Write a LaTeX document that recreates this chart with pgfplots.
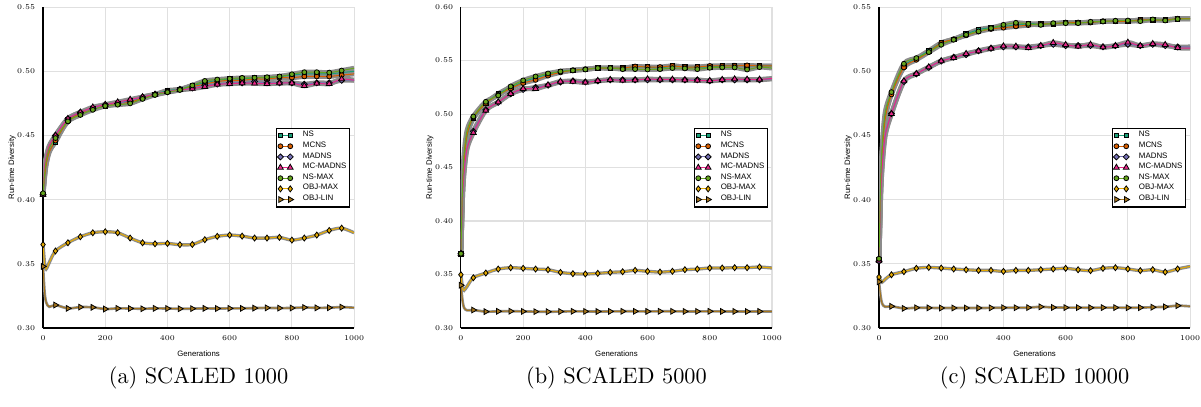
\documentclass[border=0pt]{standalone}
\usepackage{fontspec}
\usepackage{pgfplots}
\usepackage{pgfplotstable}
\pgfplotsset{compat=1.18}
\newfontfamily\lab{Liberation Sans}
\definecolor{cNS}{HTML}{1B9E77}
\definecolor{cMCNS}{HTML}{D95F02}
\definecolor{cMADNS}{HTML}{7570B3}
\definecolor{cMCMADNS}{HTML}{E7298A}
\definecolor{cNSMAX}{HTML}{66A61E}
\definecolor{cOBJMAX}{HTML}{E6AB02}
\definecolor{cOBJLIN}{HTML}{A6761D}
\definecolor{bandgray}{RGB}{140,140,140}

\pgfplotstableread{
x ns mcns madns mcmadns nsmax objmax objlin
0 0.404 0.404 0.404 0.404 0.405 0.365 0.348
5 0.418 0.417 0.424 0.425 0.420 0.350 0.328
10 0.428 0.427 0.432 0.433 0.430 0.346 0.320
20 0.438 0.437 0.441 0.442 0.440 0.351 0.3165
40 0.445 0.446 0.450 0.450 0.448 0.360 0.3179
80 0.462 0.461 0.463 0.463 0.461 0.3664 0.3153
120 0.467 0.467 0.468 0.468 0.466 0.3711 0.3163
160 0.471 0.471 0.471 0.472 0.470 0.3742 0.3161
200 0.473 0.473 0.474 0.474 0.473 0.3750 0.3148
240 0.475 0.475 0.475 0.476 0.474 0.3742 0.3153
280 0.477 0.476 0.477 0.478 0.475 0.3701 0.3152
320 0.479 0.479 0.480 0.480 0.4785 0.3664 0.3150
360 0.482 0.482 0.482 0.482 0.4816 0.3656 0.3153
400 0.485 0.484 0.484 0.484 0.4837 0.3659 0.3152
440 0.486 0.486 0.486 0.4855 0.4855 0.3649 0.3150
480 0.489 0.488 0.487 0.4865 0.489 0.3651 0.3151
520 0.491 0.490 0.489 0.488 0.4925 0.3688 0.3153
560 0.493 0.492 0.490 0.4898 0.4936 0.3714 0.3152
600 0.494 0.493 0.491 0.4903 0.4943 0.3724 0.3153
640 0.494 0.493 0.491 0.4908 0.4949 0.3716 0.3153
680 0.495 0.494 0.492 0.4906 0.495 0.3701 0.3155
720 0.495 0.494 0.491 0.4903 0.4954 0.3701 0.3157
760 0.496 0.495 0.491 0.4908 0.496 0.3706 0.3155
800 0.497 0.495 0.491 0.4908 0.4977 0.3685 0.3156
840 0.498 0.496 0.490 0.4887 0.4993 0.3701 0.3160
880 0.498 0.496 0.491 0.4906 0.4993 0.3724 0.3157
920 0.498 0.496 0.491 0.4903 0.499 0.3760 0.3158
960 0.499 0.497 0.493 0.4939 0.5006 0.3778 0.3163
1000 0.500 0.498 0.493 0.4931 0.5024 0.3742 0.3158
}\tA

\pgfplotstableread{
x ns mcns madns mcmadns nsmax objmax objlin
0 0.3695 0.3695 0.3695 0.3695 0.3695 0.3498 0.340
5 0.425 0.426 0.421 0.420 0.430 0.338 0.326
10 0.455 0.456 0.446 0.445 0.462 0.3352 0.319
20 0.480 0.481 0.469 0.468 0.485 0.339 0.3165
40 0.496 0.497 0.484 0.4826 0.4978 0.347 0.3168
80 0.510 0.510 0.504 0.5034 0.5115 0.3514 0.3153
120 0.519 0.518 0.511 0.5112 0.5174 0.3551 0.3156
160 0.525 0.524 0.519 0.519 0.5259 0.3564 0.3157
200 0.530 0.529 0.523 0.5237 0.5315 0.3558 0.3155
240 0.534 0.532 0.525 0.5237 0.5352 0.3551 0.3153
280 0.537 0.536 0.527 0.5271 0.538 0.3545 0.3152
320 0.540 0.539 0.530 0.5305 0.5399 0.352 0.3154
360 0.541 0.541 0.531 0.5305 0.5408 0.3508 0.3156
400 0.542 0.542 0.530 0.5296 0.5417 0.3505 0.3155
440 0.543 0.543 0.531 0.5312 0.543 0.3511 0.3154
480 0.543 0.543 0.532 0.5321 0.543 0.352 0.3155
520 0.543 0.543 0.532 0.5315 0.542 0.3526 0.3156
560 0.544 0.5445 0.532 0.5318 0.542 0.3539 0.3156
600 0.544 0.544 0.532 0.5327 0.5417 0.353 0.3155
640 0.543 0.544 0.532 0.5324 0.542 0.3523 0.3156
680 0.545 0.545 0.532 0.5324 0.543 0.353 0.3156
720 0.544 0.544 0.532 0.5318 0.5427 0.3545 0.3155
760 0.544 0.544 0.532 0.5315 0.542 0.3551 0.3155
800 0.544 0.545 0.531 0.5312 0.5433 0.3561 0.3156
840 0.545 0.545 0.532 0.5321 0.5436 0.3561 0.3155
880 0.5455 0.545 0.532 0.5327 0.5436 0.3564 0.3155
920 0.545 0.5455 0.532 0.5324 0.5417 0.3564 0.3154
960 0.545 0.545 0.532 0.5324 0.5439 0.357 0.3155
1000 0.545 0.545 0.533 0.5333 0.543 0.3561 0.3155
}\tB

\pgfplotstableread{
x ns mcns madns mcmadns nsmax objmax objlin
0 0.353 0.353 0.352 0.3527 0.354 0.3397 0.336
5 0.408 0.405 0.401 0.400 0.410 0.337 0.325
10 0.438 0.435 0.426 0.425 0.440 0.3358 0.319
20 0.466 0.463 0.451 0.450 0.468 0.338 0.3165
40 0.483 0.482 0.467 0.4669 0.4838 0.3415 0.3169
80 0.504 0.503 0.492 0.4924 0.5059 0.3439 0.3153
120 0.510 0.509 0.498 0.4981 0.5103 0.3465 0.3158
160 0.516 0.515 0.503 0.5033 0.515 0.3472 0.3157
200 0.522 0.522 0.508 0.508 0.5207 0.3467 0.3156
240 0.525 0.525 0.511 0.5105 0.5246 0.346 0.3156
280 0.529 0.528 0.513 0.5137 0.5285 0.3454 0.3156
320 0.5325 0.531 0.516 0.5157 0.5311 0.3449 0.3156
360 0.534 0.533 0.518 0.5178 0.5336 0.3449 0.3157
400 0.535 0.534 0.519 0.5196 0.5362 0.3441 0.3158
440 0.536 0.535 0.519 0.5194 0.5378 0.3449 0.3158
480 0.537 0.536 0.519 0.5183 0.537 0.3449 0.3159
520 0.537 0.537 0.520 0.5199 0.5362 0.3454 0.3165
560 0.537 0.537 0.521 0.5222 0.5375 0.346 0.316
600 0.538 0.538 0.520 0.5207 0.5375 0.3465 0.3159
640 0.538 0.538 0.520 0.5194 0.5375 0.3454 0.3159
680 0.538 0.538 0.520 0.5209 0.5386 0.3447 0.3158
720 0.539 0.539 0.519 0.5188 0.5388 0.3465 0.3159
760 0.539 0.539 0.520 0.5199 0.5394 0.347 0.3159
800 0.539 0.539 0.521 0.5225 0.5396 0.346 0.3158
840 0.540 0.540 0.520 0.5199 0.5391 0.3447 0.3159
880 0.540 0.540 0.521 0.5214 0.5404 0.3454 0.3162
920 0.540 0.540 0.520 0.5207 0.5396 0.3436 0.3165
960 0.541 0.541 0.519 0.5183 0.5407 0.346 0.3174
1000 0.541 0.541 0.519 0.518 0.5409 0.348 0.3169
}\tC

\pgfplotsset{
  rtaxis/.style={
    scale only axis, width=139.5pt, height=143.9pt,
    anchor=south west,
    xmin=0, xmax=1000, ymin=0.30,
    axis x line*=bottom, axis y line*=left,
    axis line style={-, black, line width=0.5pt},
    grid=major, major grid style={black!12, line width=0.5pt},
    xtick={0,200,400,600,800,1000},
    major tick length=0pt,
    scaled ticks=false,
    tick label style={font=\fontsize{3.3}{4}\selectfont},
    /pgf/number format/assume math mode=true,
    /pgf/number format/1000 sep={},
    y tick label style={/pgf/number format/.cd, fixed, fixed zerofill, precision=2},
    xlabel={Generations}, ylabel={Run-time Diversity},
    every axis label/.append style={font=\lab\fontsize{3.5}{4}\selectfont},
    xlabel style={at={(axis description cs:0.5,-0.0813)}, anchor=center},
    ylabel style={at={(axis description cs:-0.0996,0.5)}, anchor=center},
    legend style={at={(0.987,0.5)}, anchor=east, draw=black, line width=0.6pt, fill=white,
      font=\lab\fontsize{3.55}{4}\selectfont, inner sep=0.5pt, row sep=-0.8pt,
      nodes={inner sep=0.8pt},
      /tikz/every odd column/.append style={column sep=3.4pt}},
    legend cell align=left,
    legend image code/.code={\draw[##1,mark repeat=1,mark phase=1] plot coordinates {(0pt,0pt) (4.4pt,0pt)};},
  },
  rtband/.style={forget plot, color=bandgray, line width=#1, smooth, no markers},
  rtline/.style={color=#1, line width=0.45pt, smooth, mark repeat=1000,
    mark options={draw=black, fill=#1, line width=0.35pt, solid}},
  rtmk/.style={forget plot, only marks, restrict x to domain=39:961,
    mark options={draw=black, fill=#1, line width=0.35pt, solid}},
}

\newcommand{\allseries}[1]{%
  \addplot[rtband=2.2pt] table[x=x,y=ns]{#1};
  \addplot[rtband=2.2pt] table[x=x,y=mcns]{#1};
  \addplot[rtband=2.2pt] table[x=x,y=madns]{#1};
  \addplot[rtband=2.2pt] table[x=x,y=mcmadns]{#1};
  \addplot[rtband=2.2pt] table[x=x,y=nsmax]{#1};
  \addplot[rtband=1.5pt] table[x=x,y=objmax]{#1};
  \addplot[rtband=1.2pt] table[x=x,y=objlin]{#1};
  \addplot[rtline=cNS, mark=square*, mark size=1.0pt] table[x=x,y=ns]{#1};
  \addlegendentry{NS}
  \addplot[rtmk=cNS, mark=square*, mark size=1.0pt] table[x=x,y=ns]{#1};
  \addplot[rtline=cMCNS, mark=*, mark size=1.1pt] table[x=x,y=mcns]{#1};
  \addlegendentry{MCNS}
  \addplot[rtmk=cMCNS, mark=*, mark size=1.1pt] table[x=x,y=mcns]{#1};
  \addplot[rtline=cMADNS, mark=square*, mark size=0.95pt, every mark/.append style={rotate=45}] table[x=x,y=madns]{#1};
  \addlegendentry{MADNS}
  \addplot[rtmk=cMADNS, mark=square*, mark size=0.95pt, every mark/.append style={rotate=45}] table[x=x,y=madns]{#1};
  \addplot[rtline=cMCMADNS, mark=triangle*, mark size=1.5pt] table[x=x,y=mcmadns]{#1};
  \addlegendentry{MC-MADNS}
  \addplot[rtmk=cMCMADNS, mark=triangle*, mark size=1.5pt] table[x=x,y=mcmadns]{#1};
  \addplot[rtline=cNSMAX, mark=*, mark size=1.1pt] table[x=x,y=nsmax]{#1};
  \addlegendentry{NS-MAX}
  \addplot[rtmk=cNSMAX, mark=*, mark size=1.1pt] table[x=x,y=nsmax]{#1};
  \addplot[rtline=cOBJMAX, mark=diamond*, mark size=1.35pt] table[x=x,y=objmax]{#1};
  \addlegendentry{OBJ-MAX}
  \addplot[rtmk=cOBJMAX, mark=diamond*, mark size=1.35pt] table[x=x,y=objmax]{#1};
  \addplot[rtline=cOBJLIN, mark=triangle*, mark size=1.5pt, every mark/.append style={rotate=-90}] table[x=x,y=objlin]{#1};
  \addlegendentry{OBJ-LIN}
  \addplot[rtmk=cOBJLIN, mark=triangle*, mark size=1.5pt, every mark/.append style={rotate=-90}] table[x=x,y=objlin]{#1};
}

\begin{document}
\begin{tikzpicture}
\path[use as bounding box] (0pt,0pt) rectangle (538.6pt,182.1pt);
\begin{axis}[rtaxis, at={(19.3pt,35.0pt)}, ymax=0.55,
  ytick={0.30,0.35,0.40,0.45,0.50,0.55}]
\allseries{\tA}
\end{axis}
\begin{axis}[rtaxis, at={(206.7pt,35.0pt)}, ymax=0.60,
  ytick={0.30,0.35,0.40,0.45,0.50,0.55,0.60}]
\allseries{\tB}
\end{axis}
\begin{axis}[rtaxis, at={(394.2pt,35.0pt)}, ymax=0.55,
  ytick={0.30,0.35,0.40,0.45,0.50,0.55}]
\allseries{\tC}
\end{axis}
\node[anchor=base, font=\fontsize{10}{12}\selectfont] at (89.05pt,9.9pt) {(a) SCALED 1000};
\node[anchor=base, font=\fontsize{10}{12}\selectfont] at (276.45pt,9.9pt) {(b) SCALED 5000};
\node[anchor=base, font=\fontsize{10}{12}\selectfont] at (463.95pt,9.9pt) {(c) SCALED 10000};
\end{tikzpicture}
\end{document}
